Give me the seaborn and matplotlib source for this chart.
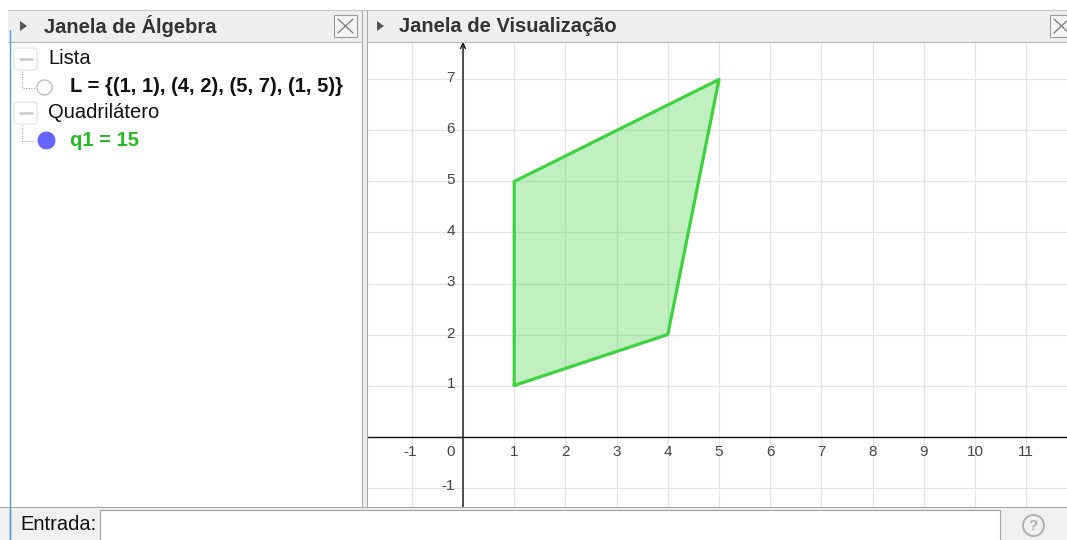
import numpy as np
import matplotlib
matplotlib.use("Agg")
import matplotlib.pyplot as plt
import seaborn as sns
from matplotlib.patches import Rectangle, Polygon, FancyBboxPatch
from matplotlib.lines import Line2D

# dados do quadrilátero (lista L)
pontos_x = [1, 4, 5, 1]
pontos_y = [1, 2, 7, 5]
area_q1 = 15

ticks_x = [-1, 1, 2, 3, 4, 5, 6, 7, 8, 9, 10, 11]
ticks_y = [-1, 1, 2, 3, 4, 5, 6, 7]
grade_x = list(range(-1, 12))
grade_y = list(range(-1, 8))

W, H = 1067, 540

sns.set_style("white")
plt.rcParams["font.family"] = ["Liberation Sans", "DejaVu Sans"]

fig = plt.figure(figsize=(W / 100, H / 100), dpi=100)
fig.patch.set_facecolor("white")


def fx(px):
    return px / W


def fy(py):
    return 1 - py / H


def ret(x0, y0, x1, y1, **kw):
    fig.patches.append(Rectangle((fx(x0), fy(y1)), fx(x1) - fx(x0), fy(y0) - fy(y1),
                                 transform=fig.transFigure, figure=fig, **kw))


def linha(xs, ys, **kw):
    fig.lines.append(Line2D([fx(v) for v in xs], [fy(v) for v in ys],
                            transform=fig.transFigure, figure=fig, **kw))


def bola(px, py, diam, **kw):
    # diam em pixels -> pontos
    linha([px], [py], marker="o", markersize=diam * 0.72, linestyle="none", **kw)


def texto(px, py, s, **kw):
    fig.text(fx(px), fy(py), s, va="center", **kw)


def triangulo(px, py):
    fig.patches.append(Polygon([(fx(px - 3), fy(py - 5)), (fx(px - 3), fy(py + 5)), (fx(px + 4), fy(py))],
                               closed=True, transform=fig.transFigure, figure=fig,
                               facecolor="#555555", edgecolor="none"))


def fechar(x0, y0, x1, y1):
    ret(x0, y0, x1, y1, facecolor="#f4f4f4", edgecolor="#9a9a9a", linewidth=0.8)
    linha([x0 + 4, x1 - 4], [y0 + 4, y1 - 4], color="#777777", linewidth=0.9)
    linha([x0 + 4, x1 - 4], [y1 - 4, y0 + 4], color="#777777", linewidth=0.9)


# --- Janela de Visualização (eixos) ---
x0_px, y0_px, unid_x, unid_y = 463, 436.5, 51.2, 51.0
g_esq, g_dir, g_top, g_base = 368, 1067, 42, 507
ax = fig.add_axes([fx(g_esq), fy(g_base), fx(g_dir) - fx(g_esq), fy(g_top) - fy(g_base)])
ax.set_xlim((g_esq - x0_px) / unid_x, (g_dir - x0_px) / unid_x)
ax.set_ylim((y0_px - g_base) / unid_y, (y0_px - g_top) / unid_y)
ax.set_xticks(grade_x)
ax.set_yticks(grade_y)
ax.grid(True, color="#e3e3e3", linewidth=0.9)
ax.tick_params(length=0, labelbottom=False, labelleft=False)
for s in ax.spines.values():
    s.set_visible(False)
ax.set_axisbelow(True)

ax.fill(pontos_x, pontos_y, color="#40d040", alpha=0.33, linewidth=0, zorder=2)
sns.lineplot(x=pontos_x + pontos_x[:1], y=pontos_y + pontos_y[:1], sort=False,
             estimator=None, color="#3fd23f", linewidth=2.3, ax=ax, zorder=3)

ax.axhline(0, color="#111111", linewidth=1.0, zorder=4)
ax.annotate("", xy=(0, ax.get_ylim()[1]), xytext=(0, ax.get_ylim()[0]),
            arrowprops=dict(arrowstyle="->", color="#111111", linewidth=1.0,
                            shrinkA=0, shrinkB=0, mutation_scale=9), zorder=4)

tick_kw = dict(textcoords="offset pixels", va="center", fontsize=11, color="#444444")
for t in ticks_x:
    ax.annotate(str(t), xy=(t, 0), xytext=(0 if t > 0 else -2, -15), ha="center", **tick_kw)
ax.annotate("0", xy=(0, 0), xytext=(-12, -15), ha="center", **tick_kw)
for t in ticks_y:
    ax.annotate(str(t), xy=(0, t), xytext=(-8, 1), ha="right", **tick_kw)

# --- elementos da interface ---
ret(8, 10, 362, 507, facecolor="white", edgecolor="none")
ret(8, 10, 362, 42, facecolor="#efefef", edgecolor="none")
ret(368, 10, 1067, 42, facecolor="#efefef", edgecolor="none")
linha([8, 1067], [10, 10], color="#c8c8c8", linewidth=0.8)
linha([8, 362], [42, 42], color="#b8b8b8", linewidth=0.8)
linha([368, 1067], [42, 42], color="#b8b8b8", linewidth=0.8)
ret(362, 10, 368, 507, facecolor="#f0f0f0", edgecolor="none")
linha([362, 362], [10, 507], color="#a8a8a8", linewidth=0.8)
linha([367, 367], [10, 507], color="#a8a8a8", linewidth=0.8)
linha([9.5, 9.5], [30, 540], color="#5b9bd5", linewidth=1.0)

triangulo(23, 26)
texto(44, 26, "Janela de Álgebra", fontsize=14.5, fontweight="bold", color="#333333")
fechar(334, 15, 357, 37)
triangulo(380, 26)
texto(399, 26, "Janela de Visualização", fontsize=14.5, fontweight="bold", color="#333333")
fechar(1050, 15, 1073, 37)

# itens da janela de álgebra
for py, nome in [(59, "Lista"), (113, "Quadrilátero")]:
    fig.patches.append(FancyBboxPatch((fx(14), fy(py + 11)), fx(23), fy(0) - fy(22),
                                      boxstyle="round,pad=0,rounding_size=0.004",
                                      transform=fig.transFigure, figure=fig,
                                      facecolor="white", edgecolor="#e2e2e2", linewidth=0.8))
    linha([20, 32], [py, py], color="#c8c8c8", linewidth=1.8)
    texto(48, py, nome, fontsize=14.5, color="#111111")

linha([22, 22, 35], [71, 88, 88], color="#999999", linewidth=0.7, linestyle=":")
linha([22, 22, 35], [125, 141, 141], color="#999999", linewidth=0.7, linestyle=":")
bola(44, 87, 15, markerfacecolor="white", markeredgecolor="#bdbdbd", markeredgewidth=1.0)
bola(46, 140, 17, markerfacecolor="#6464ff", markeredgecolor="#5a5af0", markeredgewidth=0.6)

texto_L = "L = {" + ", ".join(f"({a}, {b})" for a, b in zip(pontos_x, pontos_y)) + "}"
texto(70, 87, texto_L, fontsize=14.5, fontweight="bold", color="#111111")
texto(70, 140, f"q1 = {area_q1}", fontsize=14.5, fontweight="bold", color="#22bb22")

# barra de entrada
ret(0, 507, 1067, 540, facecolor="#f0f0f0", edgecolor="none")
linha([0, 1067], [507, 507], color="#a8a8a8", linewidth=0.8)
linha([9.5, 9.5], [507, 540], color="#5b9bd5", linewidth=1.0)
texto(20, 525, "Entrada:", fontsize=14.5, color="#111111")
ret(100, 510, 1000, 541, facecolor="white", edgecolor="#a0a0a0", linewidth=0.8)
bola(1033, 525, 21, markerfacecolor="none", markeredgecolor="#b0b0b0", markeredgewidth=1.4)
texto(1033, 526, "?", fontsize=11, fontweight="bold", color="#b0b0b0", ha="center")

fig.savefig("out.png", dpi=100)
